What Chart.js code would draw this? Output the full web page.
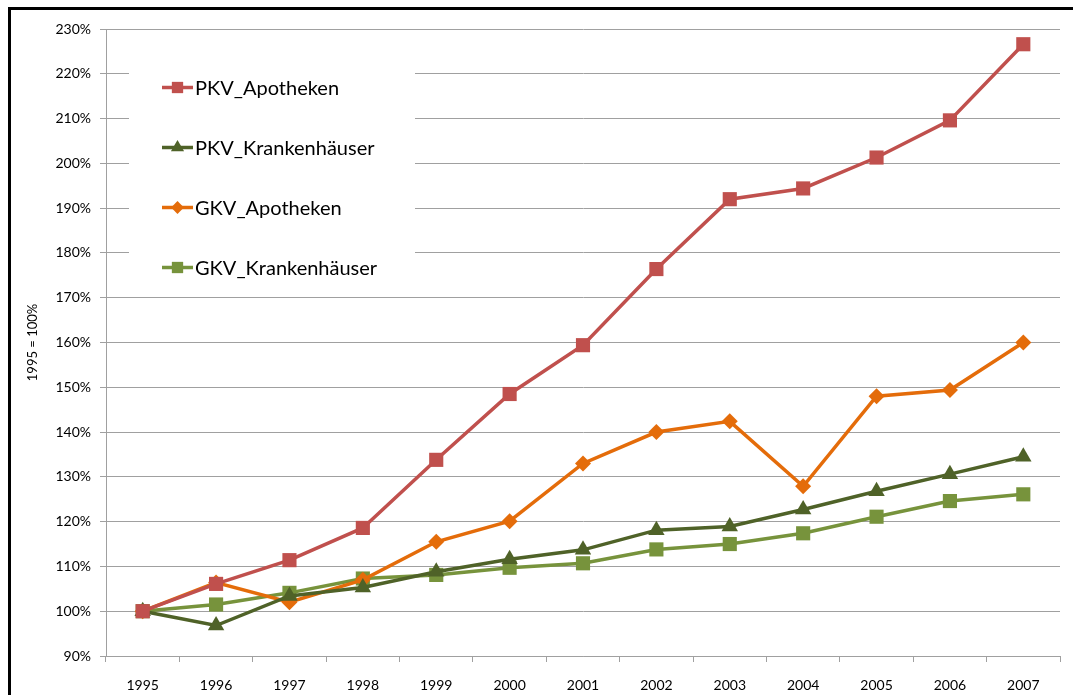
<!DOCTYPE html>
<html>
<head>
<meta charset="utf-8">
<script src="https://cdn.jsdelivr.net/npm/chart.js@4.4.1/dist/chart.umd.min.js"></script>
<style>
html, body { margin: 0; padding: 0; background: #fff; }
#wrap { width: 1073px; height: 695px; position: relative; }
</style>
</head>
<body>
<div id="wrap"><canvas id="chart" width="1073" height="695"></canvas></div>
<script>
var years = ['1995', '1996', '1997', '1998', '1999', '2000', '2001', '2002', '2003', '2004', '2005', '2006', '2007'];
var pkvApotheken = [100, 106.1, 111.4, 118.6, 133.8, 148.5, 159.4, 176.4, 192.0, 194.4, 201.3, 209.6, 226.6];
var pkvKrankenhaeuser = [100, 96.8, 103.4, 105.3, 108.8, 111.6, 113.7, 118.1, 118.9, 122.7, 126.8, 130.6, 134.5];
var gkvApotheken = [100, 106.4, 102.0, 107.0, 115.5, 120.1, 133.0, 140.0, 142.4, 127.9, 148.0, 149.4, 160.0];
var gkvKrankenhaeuser = [100, 101.5, 104.1, 107.3, 108.1, 109.7, 110.7, 113.8, 115.0, 117.4, 121.1, 124.6, 126.1];
var yTicks = { min: 90, max: 230, step: 10 };
var yTitle = '1995 = 100%';

var grey = '#a0a0a0';

// Kasten-Legende innerhalb der Zeichenfläche (wie im Original)
var boxLegend = {
    id: 'boxLegend',
    beforeDatasetsDraw: function (chart) {
        var ctx = chart.ctx;
        ctx.save();
        ctx.fillStyle = '#fff';
        ctx.fillRect(129, 40, 286, 255);
        ctx.font = '20px Lato';
        ctx.textBaseline = 'middle';
        chart.data.datasets.forEach(function (ds, i) {
            var y = 87.5 + i * 60;
            ctx.strokeStyle = ds.borderColor;
            ctx.lineWidth = 3.5;
            ctx.beginPath();
            ctx.moveTo(162, y);
            ctx.lineTo(193, y);
            ctx.stroke();
            ctx.fillStyle = ds.borderColor;
            Chart.helpers.drawPoint(ctx, { pointStyle: ds.pointStyle, radius: ds.pointRadius * 0.8, borderWidth: 0 }, 177.5, y);
            ctx.fillStyle = '#000';
            ctx.fillText(ds.label, 195, y + 1);
        });
        ctx.restore();
    }
};

var frame = {
    id: 'frame',
    afterDraw: function (chart) {
        var ctx = chart.ctx;
        ctx.save();
        ctx.strokeStyle = '#000';
        ctx.lineWidth = 3;
        ctx.strokeRect(9.5, 8.5, 1200, 800);
        ctx.restore();
    }
};

function series(label, data, color, style, r) {
    return {
        label: label, data: data, borderColor: color, backgroundColor: color,
        borderWidth: 3.5, pointStyle: style, pointRadius: r, pointHoverRadius: r,
        pointBorderWidth: 0, tension: 0
    };
}

new Chart(document.getElementById('chart'), {
    type: 'line',
    data: {
        labels: years,
        datasets: [
            series('PKV_Apotheken', pkvApotheken, '#C0504D', 'rect', 10),
            series('PKV_Krankenhäuser', pkvKrankenhaeuser, '#4F6228', 'triangle', 9.5),
            series('GKV_Apotheken', gkvApotheken, '#E46C0A', 'rectRot', 8),
            series('GKV_Krankenhäuser', gkvKrankenhaeuser, '#77933C', 'rect', 10)
        ]
    },
    plugins: [boxLegend, frame],
    options: {
        responsive: false,
        animation: false,
        layout: { padding: { left: 0, top: 29, right: 13, bottom: 0 } },
        plugins: { legend: { display: false }, tooltip: { enabled: false } },
        scales: {
            x: {
                offset: true,
                afterFit: function (s) { s.height = 39; },
                grid: { offset: true, drawOnChartArea: false, drawTicks: true, tickLength: 6, color: grey },
                border: { color: grey },
                ticks: { color: '#000', font: { family: 'Lato', size: 14 }, padding: 15, maxRotation: 0 }
            },
            y: {
                min: yTicks.min, max: yTicks.max,
                afterFit: function (s) { s.width = 106; },
                grid: { color: grey, tickLength: 6 },
                border: { color: grey },
                ticks: {
                    stepSize: yTicks.step, color: '#000', padding: 9,
                    font: { family: 'Lato', size: 14 },
                    callback: function (v) { return v + '%'; }
                },
                title: { display: true, text: yTitle, color: '#000', font: { family: 'Lato', size: 13 }, padding: { top: 25, bottom: 0 } }
            }
        }
    }
});
</script>
</body>
</html>
